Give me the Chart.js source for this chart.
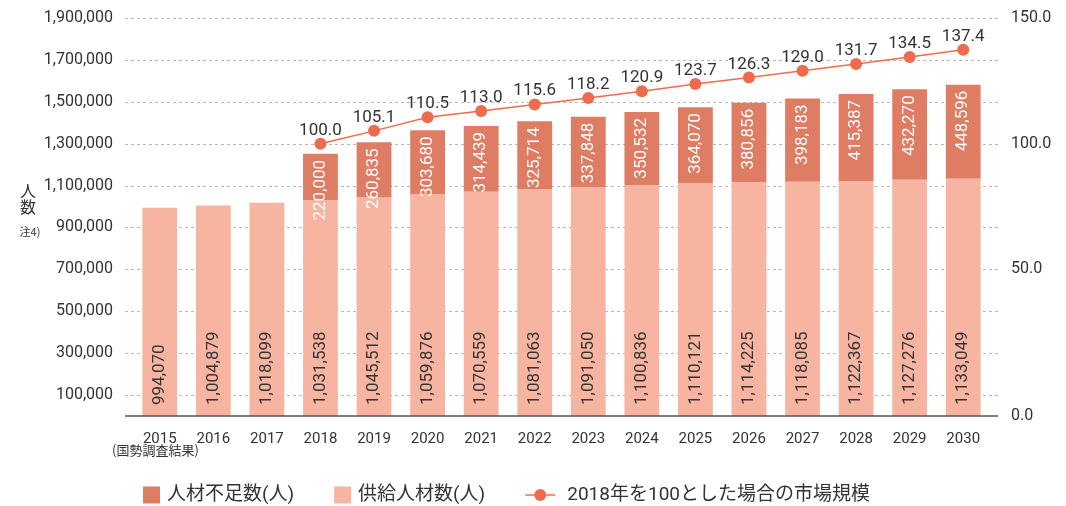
<!DOCTYPE html>
<html>
<head>
<meta charset="utf-8">
<script src="https://cdn.jsdelivr.net/npm/chart.js@4"></script>
<style>
  html, body { margin: 0; padding: 0; background: #fff; }
  #wrap { width: 1066px; height: 506px; }
</style>
</head>
<body>
<div id="wrap"><canvas id="chart"></canvas></div>
<script>
// data
const years = ['2015', '2016', '2017', '2018', '2019', '2020', '2021', '2022',
  '2023', '2024', '2025', '2026', '2027', '2028', '2029', '2030'];
const supplyValues = [994070, 1004879, 1018099, 1031538, 1045512, 1059876, 1070559, 1081063,
  1091050, 1100836, 1110121, 1114225, 1118085, 1122367, 1127276, 1133049];
const shortageValues = [null, null, null, 220000, 260835, 303680, 314439, 325714,
  337848, 350532, 364070, 380856, 398183, 415387, 432270, 448596];
const marketIndex = [null, null, null, 100.0, 105.1, 110.5, 113.0, 115.6,
  118.2, 120.9, 123.7, 126.3, 129.0, 131.7, 134.5, 137.4];
const leftTicks = [100000, 300000, 500000, 700000, 900000, 1100000, 1300000, 1500000, 1700000, 1900000];
const rightTicks = [0, 50, 100, 150];

const LIGHT = '#f7b4a1';
const DARK = '#de7c64';
const LINE = '#ee6c4d';
const TEXT = '#333';
const NUM_FONT = 'Roboto, "Noto Sans CJK JP", sans-serif';

Chart.defaults.font.family = NUM_FONT;
Chart.defaults.color = TEXT;

// dashed grid lines and base line, a bit wider than the plot area
const gridPlugin = {
  id: 'gridPlugin',
  beforeDatasetsDraw(chart) {
    const { ctx, chartArea } = chart;
    const ys = chart.scales.y;
    ctx.save();
    ctx.strokeStyle = '#b8b8b8';
    ctx.lineWidth = 1;
    ctx.setLineDash([3, 3]);
    ys.ticks.forEach(t => {
      const y = Math.round(ys.getPixelForValue(t.value)) + 0.5;
      ctx.beginPath();
      ctx.moveTo(chartArea.left - 8, y);
      ctx.lineTo(chartArea.right + 8, y);
      ctx.stroke();
    });
    ctx.restore();
  },
  afterDatasetsDraw(chart) {
    const { ctx, chartArea } = chart;
    const y0 = chart.scales.y.getPixelForValue(0);
    ctx.save();
    ctx.strokeStyle = '#555';
    ctx.lineWidth = 1.5;
    ctx.beginPath();
    ctx.moveTo(chartArea.left - 8, y0);
    ctx.lineTo(chartArea.right + 8, y0);
    ctx.stroke();
    ctx.restore();
  }
};

// value labels on bars and points
const valueLabels = {
  id: 'valueLabels',
  afterDatasetsDraw(chart) {
    const ctx = chart.ctx;
    ctx.save();
    ctx.font = '17px ' + NUM_FONT;
    ctx.textBaseline = 'middle';

    chart.getDatasetMeta(0).data.forEach((bar, i) => {
      ctx.save();
      ctx.translate(bar.x, bar.base - 11);
      ctx.rotate(-Math.PI / 2);
      ctx.fillStyle = TEXT;
      ctx.textAlign = 'left';
      ctx.fillText(supplyValues[i].toLocaleString('en-US'), 0, 0);
      ctx.restore();
    });

    chart.getDatasetMeta(1).data.forEach((bar, i) => {
      if (shortageValues[i] == null) return;
      ctx.save();
      ctx.translate(bar.x, bar.y + 6);
      ctx.rotate(-Math.PI / 2);
      ctx.fillStyle = '#fff';
      ctx.textAlign = 'right';
      ctx.fillText(shortageValues[i].toLocaleString('en-US'), 0, 0);
      ctx.restore();
    });

    ctx.fillStyle = TEXT;
    ctx.textAlign = 'center';
    ctx.textBaseline = 'alphabetic';
    chart.getDatasetMeta(2).data.forEach((pt, i) => {
      if (marketIndex[i] == null) return;
      ctx.fillText(marketIndex[i].toFixed(1), pt.x, pt.y - 9);
    });
    ctx.restore();
  }
};

// axis title, note and legend
const extras = {
  id: 'extras',
  afterDraw(chart) {
    const { ctx, chartArea } = chart;
    const ds = chart.data.datasets;
    ctx.save();
    ctx.fillStyle = TEXT;
    ctx.textAlign = 'center';
    ctx.textBaseline = 'middle';
    ctx.font = '16px "Noto Sans CJK JP"';
    ctx.fillText('人', 28, 191);
    ctx.fillText('数', 28, 207);
    ctx.font = '11px "Noto Sans CJK JP"';
    ctx.fillText('注4)', 30, 232);
    ctx.font = '13px "Noto Sans CJK JP"';
    ctx.textAlign = 'left';
    ctx.fillText('(国勢調査結果)', 112, 450);

    // legend
    const cy = 495;
    let x = chartArea.left + 10;
    ctx.font = '19px ' + NUM_FONT;
    const items = [
      { kind: 'box', color: DARK, text: ds[1].label },
      { kind: 'box', color: LIGHT, text: ds[0].label },
      { kind: 'line', color: LINE, text: ds[2].label }
    ];
    items.forEach(it => {
      if (it.kind === 'box') {
        ctx.fillStyle = it.color;
        ctx.fillRect(x, cy - 8.5, 17, 17);
        x += 17 + 7;
      } else {
        ctx.strokeStyle = it.color;
        ctx.lineWidth = 1.5;
        ctx.beginPath();
        ctx.moveTo(x, cy);
        ctx.lineTo(x + 30, cy);
        ctx.stroke();
        ctx.fillStyle = it.color;
        ctx.beginPath();
        ctx.arc(x + 15, cy, 6, 0, Math.PI * 2);
        ctx.fill();
        x += 30 + 12;
      }
      ctx.fillStyle = TEXT;
      ctx.fillText(it.text, x, cy);
      x += ctx.measureText(it.text).width + 40;
    });
    ctx.restore();
  }
};

new Chart(document.getElementById('chart'), {
  type: 'bar',
  data: {
    labels: years,
    datasets: [
      {
        label: '供給人材数(人)',
        data: supplyValues,
        backgroundColor: LIGHT,
        yAxisID: 'y',
        order: 1,
        categoryPercentage: 1,
        barPercentage: 0.65
      },
      {
        label: '人材不足数(人)',
        data: shortageValues,
        backgroundColor: DARK,
        yAxisID: 'y',
        order: 1,
        categoryPercentage: 1,
        barPercentage: 0.65
      },
      {
        type: 'line',
        label: '2018年を100とした場合の市場規模',
        data: marketIndex,
        yAxisID: 'y1',
        order: 0,
        borderColor: LINE,
        borderWidth: 1.5,
        pointRadius: 6,
        pointBackgroundColor: LINE,
        pointBorderWidth: 0,
        tension: 0
      }
    ]
  },
  options: {
    responsive: true,
    maintainAspectRatio: false,
    animation: false,
    layout: { padding: { top: 18, left: 0, right: 0, bottom: 0 } },
    plugins: {
      legend: { display: false },
      tooltip: { enabled: false }
    },
    scales: {
      x: {
        stacked: true,
        offset: true,
        grid: { display: false },
        border: { display: false },
        ticks: { font: { size: 15 }, color: TEXT, padding: 6, maxRotation: 0 },
        afterFit: s => { s.height = 90; }
      },
      y: {
        stacked: true,
        position: 'left',
        min: 0,
        max: 1900000,
        // tick marks are hidden; their length only spaces the labels
        grid: { display: false, drawTicks: true, tickLength: 20 },
        border: { display: false },
        afterBuildTicks: s => { s.ticks = leftTicks.map(v => ({ value: v })); },
        ticks: {
          font: { size: 16 },
          color: TEXT,
          padding: 0,
          callback: v => v.toLocaleString('en-US')
        },
        afterFit: s => { s.width = 133; }
      },
      y1: {
        position: 'right',
        min: -100000 / 12000,
        max: 150,
        grid: { display: false, drawTicks: true, tickLength: 21 },
        border: { display: false },
        // the reference prints its 0.0 label on the base line
        afterBuildTicks: s => {
          s.ticks = rightTicks.map(v => ({ value: v === 0 ? s.min : v }));
        },
        ticks: {
          font: { size: 16 },
          color: TEXT,
          padding: 0,
          callback: v => (v < 0 ? 0 : v).toFixed(1)
        },
        afterFit: s => { s.width = 76; }
      }
    }
  },
  plugins: [gridPlugin, valueLabels, extras]
});
</script>
</body>
</html>
